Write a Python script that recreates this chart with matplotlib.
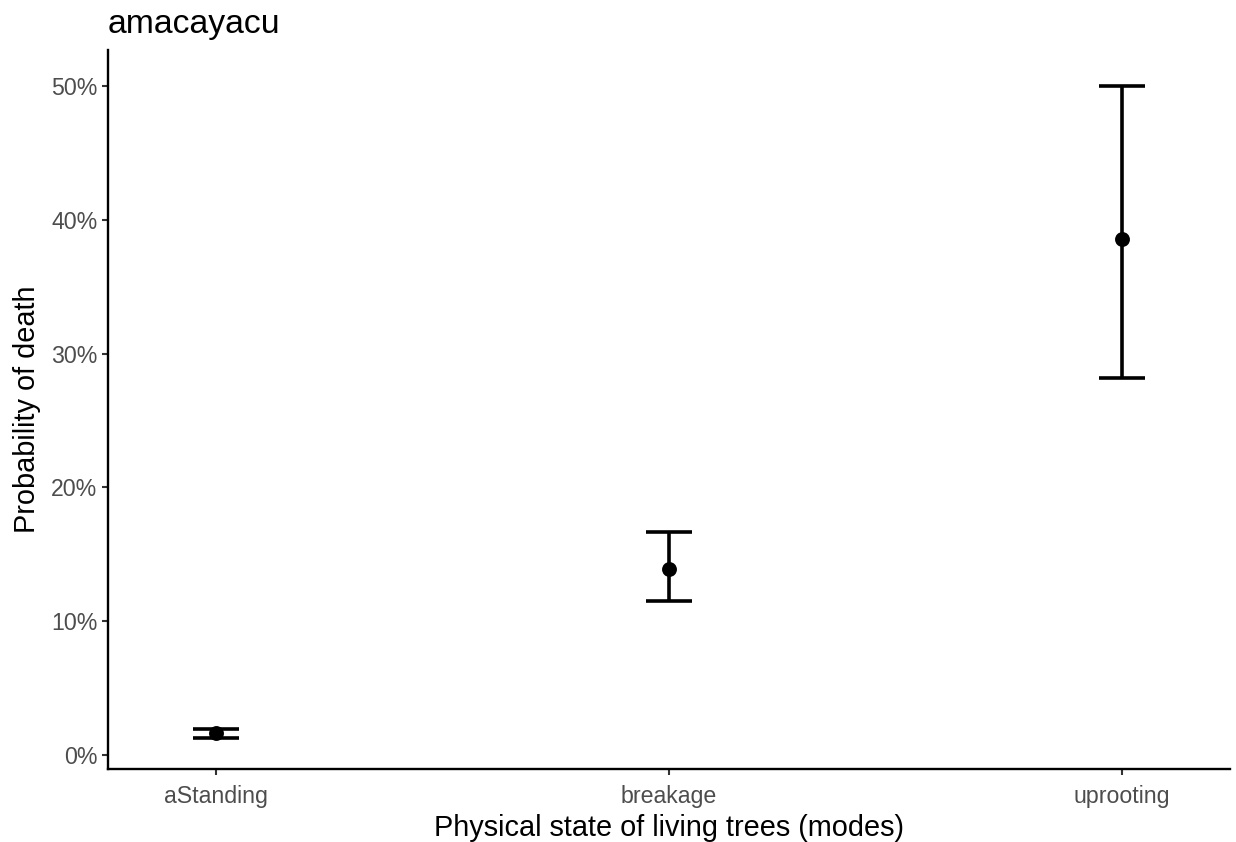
import matplotlib.pyplot as plt
from matplotlib.ticker import FuncFormatter

plt.rcParams['font.family'] = ['Liberation Sans', 'DejaVu Sans']

# data (probabilities)
modes = ["aStanding", "breakage", "uprooting"]
prob = [0.0164, 0.1390, 0.3856]
lower = [0.0127, 0.1153, 0.2818]
upper = [0.0194, 0.1667, 0.5000]

fig = plt.figure(figsize=(12.36, 8.42), dpi=100)
ax = fig.add_axes((108/1236, 1-769/842, (1230-108)/1236, (769-50)/842))

x = list(range(1, len(modes)+1))
yerr = [[p-l for p, l in zip(prob, lower)], [u-p for p, u in zip(prob, upper)]]
ax.errorbar(x, prob, yerr=yerr, fmt="none", ecolor="black", elinewidth=2.6,
            capsize=16.5, capthick=2.6, zorder=2)
ax.scatter(x, prob, s=115, color="black", zorder=3, linewidths=0)

ax.set_xlim(0.762, 3.238)
ax.set_ylim(-0.0105, 0.527)
ax.set_xticks(x)
ax.set_xticklabels(modes)
ax.set_yticks([0, 0.1, 0.2, 0.3, 0.4, 0.5])
ax.yaxis.set_major_formatter(FuncFormatter(lambda v, _: f"{v*100:.0f}%"))

for s in ["top", "right"]:
    ax.spines[s].set_visible(False)
for s in ["left", "bottom"]:
    ax.spines[s].set_linewidth(1.7)
ax.tick_params(axis="both", length=4.5, width=1.5, color="#333333",
               labelsize=16.7, labelcolor="#4d4d4d", pad=3)
ax.tick_params(axis="x", pad=7)

ax.set_xlabel("Physical state of living trees (modes)", fontsize=20.8, labelpad=4)
ax.set_ylabel("Probability of death", fontsize=20.8, labelpad=7)
fig.text(108/1236, 1-24/842, "amacayacu", fontsize=24.3, ha="left", va="center")

fig.savefig("out.png", dpi=100, facecolor="white")
